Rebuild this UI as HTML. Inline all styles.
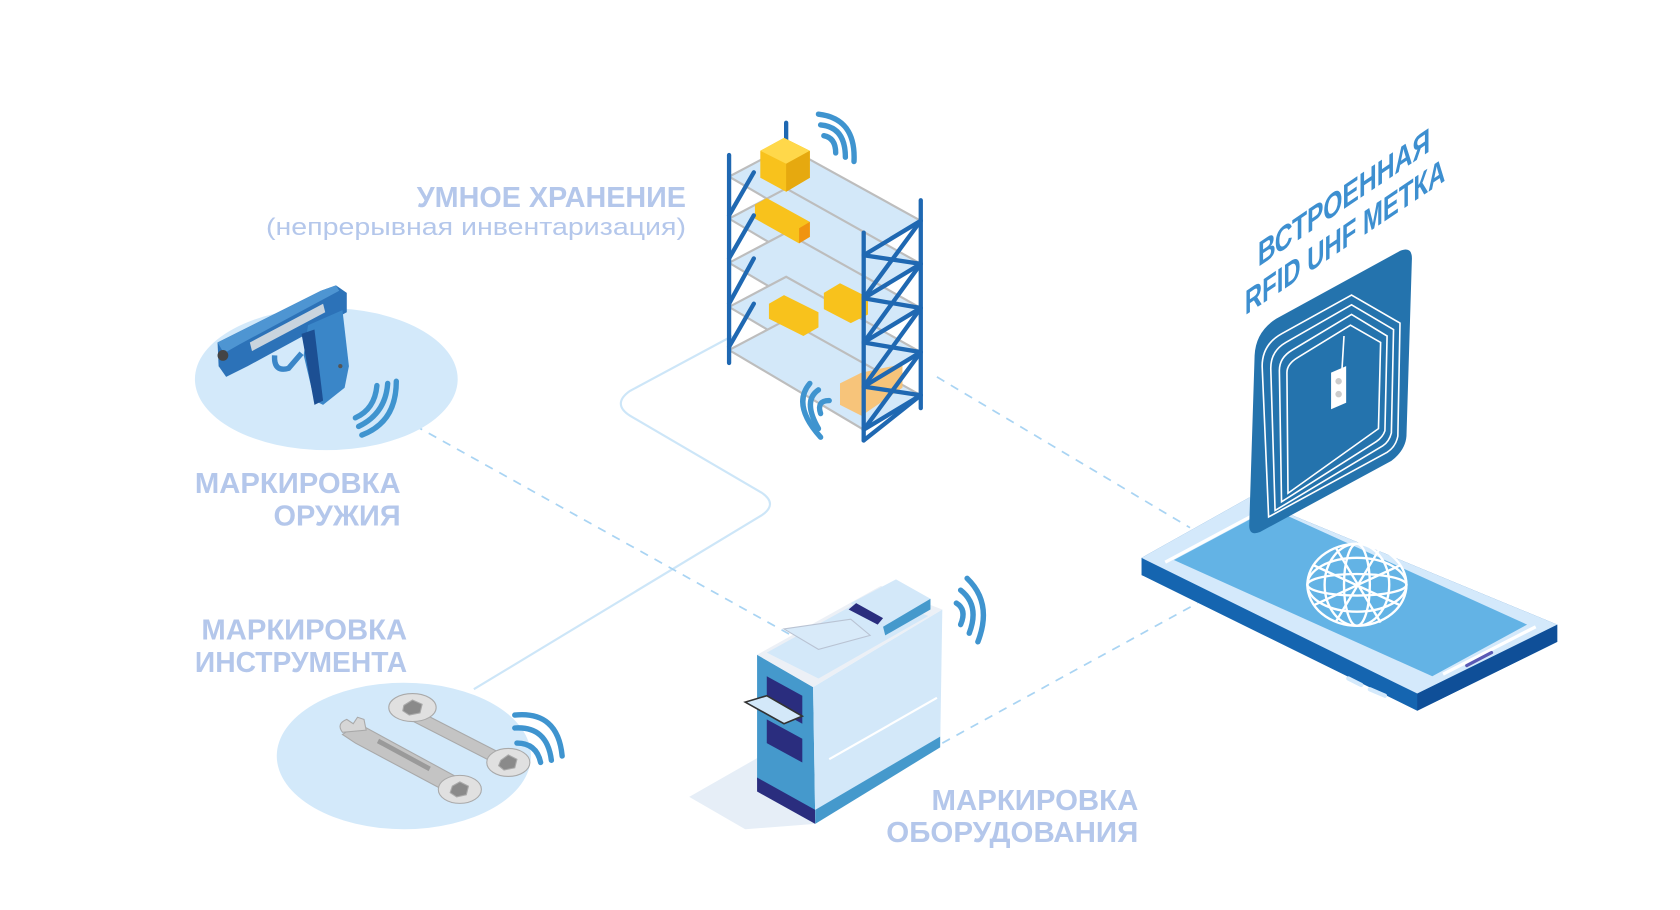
<!DOCTYPE html>
<html><head><meta charset="utf-8"><style>
html,body{margin:0;padding:0;background:#fff;}
svg{display:block;}
.lbl{font-family:"Liberation Sans",sans-serif;font-weight:bold;fill:#b4c7eb;}
</style></head><body>
<svg width="1680" height="910" viewBox="0 0 1560 845" xmlns="http://www.w3.org/2000/svg">
<g fill="none" stroke="#a9d4f3" stroke-width="1.6">
<path d="M440,640 L708,478 Q722,468 708,458 L585,386 Q568,375 585,363 L680,312" stroke="#cde6f8" stroke-width="2"/>
<path d="M385,395 L735,590" stroke-dasharray="8,7"/>
<path d="M870,350 L1105,490" stroke-dasharray="8,7"/>
<path d="M875,690 L1112,560" stroke-dasharray="8,7"/>
</g>
<ellipse cx="303" cy="352" rx="122" ry="66" fill="#d3e9fa"/>
<ellipse cx="375" cy="702" rx="118" ry="68" fill="#d3e9fa"/>

<g>
<polygon points="202,318 298,270 312,265 322,272 322,290 230,340 210,350 203,340" fill="#2c72b8"/>
<polygon points="202,318 298,270 312,265 315,270 222,320 208,328" fill="#4e95d2"/>
<polygon points="232,318 300,282 302,290 234,326" fill="#c9d4de"/>
<polygon points="286,302 318,288 324,340 320,360 300,376 292,372 282,330" fill="#3a86c8"/>
<polygon points="280,310 292,306 300,372 292,376" fill="#1c4f93"/>
<path d="M255,330 Q254,346 268,342 L280,328" fill="none" stroke="#3a86c8" stroke-width="5"/>
<circle cx="207" cy="330" r="5" fill="#444"/>
<circle cx="316" cy="340" r="2" fill="#555"/>
</g>
<g fill="none" stroke="#3f94cf" stroke-width="5" stroke-linecap="round">
<path d="M330,388 Q348,380 350,358"/>
<path d="M333,396 Q358,384 360,356"/>
<path d="M336,404 Q368,392 368,354"/>
</g>

<g fill="#c4c4c4" stroke="#a9a9a9" stroke-width="1">
<polygon points="333,672 425,722 432,735 420,738 330,690 318,682"/>
<path d="M318,680 Q312,672 322,668 L328,672 L332,666 L338,668 L340,678 Z" fill="#d6d6d6"/>
<ellipse cx="427" cy="733" rx="20" ry="13" fill="#e0e0e0"/>
<polygon points="420,730 427,726 435,730 433,738 424,740 418,736" fill="#8a8a8a"/>
<polygon points="388,660 470,702 466,712 380,668"/>
<ellipse cx="383" cy="657" rx="22" ry="13" fill="#e0e0e0"/>
<polygon points="375,655 383,650 392,654 390,662 380,664 374,660" fill="#8a8a8a"/>
<ellipse cx="472" cy="708" rx="20" ry="13" fill="#e0e0e0"/>
<polygon points="465,706 472,701 480,705 478,713 468,715 463,711" fill="#8a8a8a"/>
<polygon points="352,686 400,712 398,716 350,690" fill="#9a9a9a" stroke="none"/>
</g>
<g fill="none" stroke="#3f94cf" stroke-width="5" stroke-linecap="round">
<path d="M480,690 Q498,690 502,708"/>
<path d="M478,676 Q508,674 512,706"/>
<path d="M478,664 Q518,660 522,702"/>
</g>

<g>
<g fill="#d3e8f9" stroke="#bdbdbd" stroke-width="2">
<polygon points="677,164 730,136 855,205 802,237"/>
<polygon points="677,203 730,175 855,245 802,277"/>
<polygon points="677,244 730,216 855,286 802,318"/>
<polygon points="677,285 730,257 855,327 802,359"/>
<polygon points="677,325 730,297 855,367 802,399"/>
</g>
<g stroke="#1f68b2" stroke-width="4" fill="none" stroke-linecap="round">
<line x1="730" y1="114" x2="730" y2="140"/>
</g>
<polygon points="706,140 728,128 752,140 752,165 730,178 706,165" fill="#f8c21c"/>
<polygon points="706,140 728,128 752,140 730,152" fill="#ffd84a"/>
<polygon points="730,152 752,140 752,165 730,178" fill="#e6a90f"/>
<polygon points="701,190 712,184 752,206 752,220 742,226 701,203" fill="#f8c21c"/>
<polygon points="742,212 752,206 752,220 742,226" fill="#f09410"/>
<polygon points="765,272 780,263 806,276 806,292 790,300 765,287" fill="#f8c21c"/>
<polygon points="714,282 728,274 760,290 760,304 746,312 714,296" fill="#f8c21c"/>
<polygon points="780,356 800,346 838,338 838,360 800,386 780,376" fill="#f7c47a"/>
<g stroke="#1f68b2" stroke-width="4" fill="none" stroke-linecap="round">
<line x1="677" y1="144" x2="677" y2="337"/>
<line x1="802" y1="216" x2="802" y2="409"/>
<line x1="855" y1="186" x2="855" y2="379"/>
<path d="M677,200 L700,160 M677,240 L700,200 M677,282 L700,240 M677,322 L700,282"/>
<path d="M802,237 L855,205 M802,277 L855,245 M802,318 L855,286 M802,359 L855,327 M802,399 L855,367"/>
<path d="M802,277 L855,205 M802,318 L855,245 M802,359 L855,286 M802,399 L855,327 M802,409 L855,367"/>
<path d="M802,237 L855,245 M802,277 L855,286 M802,318 L855,327 M802,359 L855,367"/>
</g>
</g>
<g fill="none" stroke="#3f94cf" stroke-width="5" stroke-linecap="round">
<path d="M765,126 Q776,128 776,142"/>
<path d="M762,116 Q785,118 785,146"/>
<path d="M760,106 Q795,110 793,150"/>
<path d="M770,372 Q758,372 762,384"/>
<path d="M760,362 Q745,372 760,398"/>
<path d="M752,356 Q735,376 762,406"/>
</g>

<g>
<polygon points="640,740 710,700 757,765 692,770" fill="#e6eef7"/>
<polygon points="703,608 755,638 757,761 703,724" fill="#4599cc"/>
<polygon points="703,722 757,752 757,765 703,735" fill="#2a2d7e"/>
<polygon points="755,638 875,566 873,694 757,761" fill="#d3e8f9"/>
<polygon points="757,752 873,684 873,694 757,765" fill="#4599cc"/>
<polygon points="703,608 818,544 875,566 755,638" fill="#ecf0f6"/>
<polygon points="712,606 810,552 862,572 760,630" fill="#d3e8f9"/>
<polygon points="728,584 790,575 808,590 760,603" fill="#d8eaf9" stroke="#b9c3d3"/>
<polygon points="790,560 832,538 864,556 820,582" fill="#d3e8f9"/>
<polygon points="820,582 864,556 864,566 822,590" fill="#4599cc"/>
<polygon points="788,566 795,560 820,574 815,580" fill="#2a2d7e"/>
<polygon points="712,628 745,646 745,672 712,654" fill="#2a2d7e"/>
<polygon points="712,668 745,686 745,708 712,690" fill="#2a2d7e"/>
<polygon points="692,652 712,646 745,665 728,672" fill="#d3e8f9" stroke="#333" stroke-width="1.5"/>
<line x1="770" y1="705" x2="870" y2="648" stroke="#fff" stroke-width="2"/>
</g>
<g fill="none" stroke="#3f94cf" stroke-width="5" stroke-linecap="round">
<path d="M888,560 Q898,566 892,580"/>
<path d="M892,548 Q910,562 900,588"/>
<path d="M898,537 Q922,560 908,596"/>
</g>

<g>
<polygon points="1060,518 1160,462 1446,580 1446,596 1316,660 1060,534" fill="#1565b0"/>
<polygon points="1316,644 1446,580 1446,596 1316,660" fill="#0f4f98"/>
<polygon points="1060,518 1160,462 1446,580 1316,644" fill="#d4e9fb"/>
<polygon points="1090,520 1180,472 1418,580 1330,628" fill="#63b3e5"/>
<line x1="1082" y1="522" x2="1172" y2="474" stroke="#fff" stroke-width="3"/>
<line x1="1340" y1="626" x2="1426" y2="582" stroke="#fff" stroke-width="3"/>
<line x1="1362" y1="618" x2="1385" y2="606" stroke="#5a5ab5" stroke-width="3" stroke-linecap="round"/>
<line x1="1252" y1="630" x2="1264" y2="636" stroke="#d4e9fb" stroke-width="4" stroke-linecap="round"/>
<line x1="1272" y1="640" x2="1286" y2="646" stroke="#d4e9fb" stroke-width="4" stroke-linecap="round"/>
<g fill="none" stroke="#fff" stroke-width="2.2">
<ellipse cx="1260" cy="543" rx="46" ry="38"/>
<ellipse cx="1260" cy="543" rx="30" ry="38"/>
<ellipse cx="1260" cy="543" rx="12" ry="38"/>
<ellipse cx="1260" cy="543" rx="46" ry="25"/>
<ellipse cx="1260" cy="543" rx="46" ry="10"/>
<path d="M1220,525 L1300,562 M1220,562 L1300,525 M1240,508 L1282,578 M1240,578 L1282,508"/>
</g>
</g>
<g>
<path d="M1165,330 Q1166,308 1185,296 L1300,233 Q1312,228 1311,242 L1306,405 Q1305,418 1292,428 L1170,494 Q1160,498 1160,488 Z" fill="#2473ad"/>
<g fill="none" stroke="#fff" stroke-width="1.5">
<path d="M1178,480 L1172,340 Q1172,320 1190,310 L1255,274 L1300,300 L1298,405 Q1296,415 1288,420 Z"/>
<path d="M1184,474 L1180,342 Q1180,326 1194,318 L1255,283 L1294,306 L1292,402 Q1290,410 1284,414 Z"/>
<path d="M1190,466 L1188,344 Q1188,332 1200,325 L1255,292 L1288,312 L1286,400 Q1284,406 1278,410 Z"/>
<path d="M1196,458 L1195,346 Q1195,338 1205,332 L1254,302 L1282,318 L1280,398 Z"/>
<line x1="1248" y1="312" x2="1246" y2="345"/>
</g>
<polygon points="1236,346 1250,340 1250,374 1236,380" fill="#fff"/>
<circle cx="1243" cy="354" r="3" fill="#ccc"/>
<circle cx="1243" cy="366" r="3" fill="#ccc"/>
</g>

<text class="lbl" x="637" y="192" text-anchor="end" font-size="27" textLength="250" lengthAdjust="spacingAndGlyphs">УМНОЕ ХРАНЕНИЕ</text>
<text x="637" y="218" text-anchor="end" font-size="22" textLength="390" lengthAdjust="spacingAndGlyphs" style="font-family:'Liberation Sans',sans-serif;fill:#b4c7eb">(непрерывная инвентаризация)</text>
<text class="lbl" x="372" y="458" text-anchor="end" font-size="27" textLength="191" lengthAdjust="spacingAndGlyphs">МАРКИРОВКА</text>
<text class="lbl" x="372" y="488" text-anchor="end" font-size="27" textLength="118" lengthAdjust="spacingAndGlyphs">ОРУЖИЯ</text>
<text class="lbl" x="378" y="594" text-anchor="end" font-size="27" textLength="191" lengthAdjust="spacingAndGlyphs">МАРКИРОВКА</text>
<text class="lbl" x="378" y="624" text-anchor="end" font-size="27" textLength="197" lengthAdjust="spacingAndGlyphs">ИНСТРУМЕНТА</text>
<text class="lbl" x="1057" y="752" text-anchor="end" font-size="27" textLength="192" lengthAdjust="spacingAndGlyphs">МАРКИРОВКА</text>
<text class="lbl" x="1057" y="782" text-anchor="end" font-size="27" textLength="234" lengthAdjust="spacingAndGlyphs">ОБОРУДОВАНИЯ</text>
<g style="font-family:'Liberation Sans',sans-serif;font-weight:bold;fill:#3d8fd0" font-size="32">
<text transform="translate(1168,248) skewY(-34)" textLength="160" lengthAdjust="spacingAndGlyphs">ВСТРОЕННАЯ</text>
<text transform="translate(1156,293) skewY(-34)" textLength="186" lengthAdjust="spacingAndGlyphs">RFID UHF МЕТКА</text>
</g>
</svg>
</body></html>
